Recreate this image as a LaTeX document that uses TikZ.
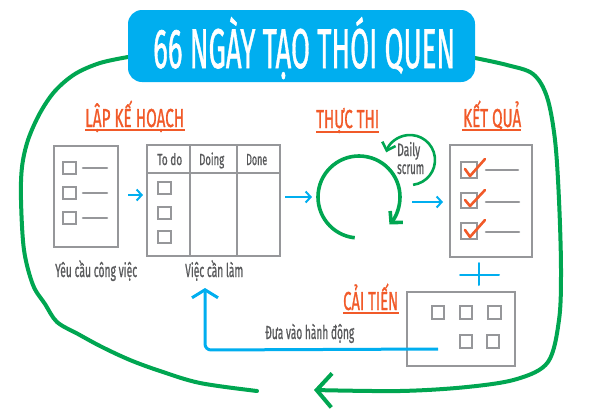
\documentclass[tikz,border=0pt]{standalone}
\usepackage{fontspec}
\setmainfont{Fira Sans}
\newfontfamily\medfont{Fira Sans}[BoldFont={Fira Sans}, BoldFeatures={FakeBold=1.2}]
\usepackage{graphicx}
\usetikzlibrary{arrows.meta}
\definecolor{cblue}{RGB}{0,174,239}
\definecolor{cgreen}{RGB}{0,166,81}
\definecolor{corange}{RGB}{241,90,41}
\definecolor{lgray}{RGB}{150,151,154}
\definecolor{tgray}{RGB}{88,89,91}
\newcommand\fw[2]{\resizebox{#1}{\height}{#2}}
\begin{document}
\begin{tikzpicture}[x=1pt,y=-1pt,
  txt/.style={inner sep=0pt, anchor=base west},
  head/.style={txt, text=corange, font=\fontsize{26}{26}\medfont\bfseries},
  glabel/.style={txt, text=tgray, font=\fontsize{19}{19}\medfont\bfseries},
  hlabel/.style={txt, text=tgray, font=\fontsize{16}{16}\medfont\bfseries},
  uline/.style={draw=corange, line width=1.4pt},
  box/.style={draw=lgray, line width=2pt, inner sep=0pt},
  chk/.style={draw=lgray, line width=1.4pt},
  bar/.style={draw=lgray, line width=2.6pt, line cap=round},
  tick/.style={draw=corange, line width=2.6pt, line cap=round, line join=round},
  barrow/.style={draw=cblue, line width=2pt, -{Straight Barb[length=5pt,width=11pt]}},
  gline/.style={draw=cgreen, line width=4pt, line cap=round}]
\useasboundingbox (0,0) rectangle (592,418);

% ---------- green loop ----------
\coordinate (gl) at (128,57);
\coordinate (gr) at (475,58);
\coordinate (gtip) at (314,390);
\draw[gline] plot[smooth, tension=0.55] coordinates {(gl) (100,63) (75,74) (55,91) (40,113) (28,140) (22,167) (21,200) (24,250) (33,285) (45,304) (57,322) (78,334) (102,347) (130,360) (160,371) (200,383) (257,391)};
\draw[gline, -{Straight Barb[length=15pt,width=34pt]}] plot[smooth, tension=0.55] coordinates {(gr) (507,65) (533,74) (547,97) (555,140) (559,200) (561,270) (559,320) (548,362) (517,379) (467,387) (400,391) (gtip)};

% ---------- title ----------
\node[fill=cblue, rounded corners=14pt, minimum width=347pt, minimum height=72pt, inner sep=0pt] (titlebox) at (301.5,46) {};
\node[txt, text=white, font=\fontsize{56}{56}\medfont\bfseries] (title) at (153,68) {\fw{302pt}{66 NGÀY TẠO THÓI QUEN}};

% ---------- headings ----------
\node[head] (h1) at (85,127) {\fw{99pt}{LẬP KẾ HOẠCH}};
\draw[uline] (85,130) -- (185,130);
\node[head] (h2) at (316,128) {\fw{63pt}{THỰC THI}};
\draw[uline] (316,132) -- (379,132);
\node[head] (h3) at (463,127) {\fw{58pt}{KẾT QUẢ}};
\draw[uline] (462,130) -- (521,130);
\node[head] (h4) at (343,310) {\fw{55pt}{CẢI TIẾN}};
\draw[uline] (343,313) -- (399,313);

% ---------- requirements document ----------
\node[box, minimum width=64pt, minimum height=101pt] (req) at (86,196.5) {};
\foreach \y in {162,187,212}{
  \draw[chk] (63,\y) rectangle (76,\y+12);
  \draw[bar] (83,\y+6) -- (107,\y+6);
}
\node[glabel] (reqlabel) at (55,277) {\fw{82pt}{Yêu cầu công việc}};

% ---------- kanban board ----------
\node[box, minimum width=133pt, minimum height=111pt] (board) at (213.5,200.5) {};
\draw[draw=lgray, line width=2pt] (147,173) -- (280,173);
\draw[draw=lgray, line width=2pt] (190,145) -- (190,256);
\draw[draw=lgray, line width=2pt] (237,145) -- (237,256);
\node[hlabel] (c1) at (157,165) {\fw{25pt}{To do}};
\node[hlabel] (c2) at (199,165) {\fw{25pt}{Doing}};
\node[hlabel] (c3) at (246,165) {\fw{21pt}{Done}};
\foreach \y in {182,207,231}{
  \draw[chk] (158,\y) rectangle (171,\y+12);
}
\node[glabel] (boardlabel) at (185,277) {\fw{58pt}{Việc cần làm}};

% ---------- sprint cycle ----------
\coordinate (cyc) at (359,197);
\coordinate (cycin) at (312,197);
\coordinate (cycout) at (412,202);
\draw[draw=cgreen, line width=3.6pt, -{Straight Barb[length=8pt,width=17pt]}]
  ([shift={(96:41)}]cyc) arc[start angle=96, end angle=402, radius=41];
\coordinate (scr) at (410,160);
\draw[draw=cgreen, line width=2.6pt, -{Straight Barb[length=7pt,width=14pt]}]
  ([shift={(83:25)}]scr) arc[start angle=83, end angle=-162, radius=25];
\node[hlabel, font=\fontsize{18}{18}\medfont\bfseries] (daily) at (397,156) {\fw{23pt}{Daily}};
\node[hlabel, font=\fontsize{18}{18}\medfont\bfseries] (scrum) at (397,174) {\fw{27pt}{scrum}};

% ---------- result document ----------
\node[box, minimum width=82pt, minimum height=112pt] (res) at (491,201) {};
\foreach \y/\h in {162/16,193/15,223/16}{
  \draw[chk] (461,\y) rectangle (477,\y+\h);
  \draw[tick] (465,\y+7) -- (470,\y+\h-2) -- (485,\y-3);
}
\draw[bar] (486,170) -- (518,170);
\draw[bar] (486,202) -- (519,202);
\draw[bar] (486,232) -- (519,232);

% ---------- improvement board ----------
\node[box, minimum width=108pt, minimum height=74pt] (imp) at (461,329) {};
\draw[chk] (432,306) rectangle (444,319);
\draw[chk] (460,306) rectangle (472,319);
\draw[chk] (488,306) rectangle (501,319);
\draw[chk] (460,335) rectangle (472,348);
\draw[chk] (487,335) rectangle (499,348);

% ---------- plus ----------
\coordinate (plus) at (479,275);
\draw[draw=cblue, line width=2pt, line cap=round] ([xshift=-19pt]plus) -- ([xshift=20pt]plus);
\draw[draw=cblue, line width=2pt, line cap=round] ([yshift=-10pt]plus) -- ([yshift=12pt]plus);

% ---------- blue arrows ----------
\coordinate (a1s) at (128,195);
\coordinate (a1e) at (143,195);
\draw[barrow] (a1s) -- (a1e);
\coordinate (a2s) at (285,197);
\draw[barrow] (a2s) -- (cycin);
\coordinate (a3e) at (443,202);
\draw[barrow] (cycout) -- (a3e);

\coordinate (fbs) at (438,349);
\coordinate (fbc) at (205,350);
\coordinate (fbe) at (205,288);
\draw[draw=cblue, line width=3pt, rounded corners=6pt, -{Straight Barb[length=8pt,width=26pt]}] (fbs) -- (fbc) -- (fbe);
\node[glabel] (fblabel) at (265,339) {\fw{89pt}{Đưa vào hành động}};
\end{tikzpicture}
\end{document}
